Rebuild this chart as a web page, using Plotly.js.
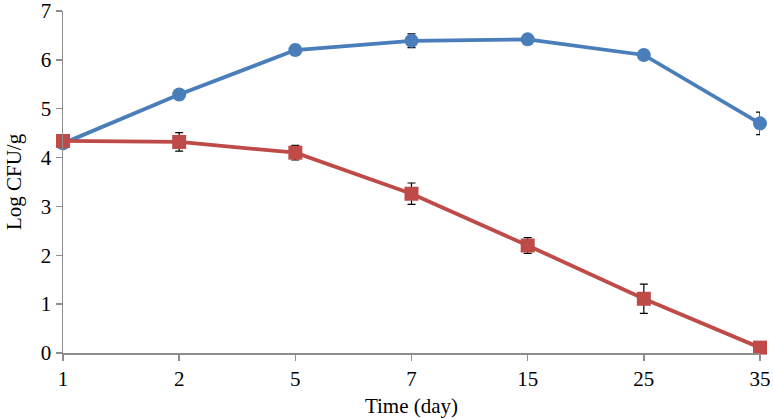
<!DOCTYPE html>
<html>
<head>
<meta charset="utf-8">
<script src="https://cdn.plot.ly/plotly-3.0.1.min.js"></script>
<style>html,body{margin:0;padding:0;background:#fff;}#chart{width:773px;height:419px;}</style>
</head>
<body>
<div id="chart"></div>
<script>
const days = ["1", "2", "5", "7", "15", "25", "35"];
const blueValues = [4.29, 5.29, 6.20, 6.39, 6.42, 6.10, 4.70];
const blueErrors = [0.0, 0.10, 0.10, 0.14, 0.08, 0.04, 0.23];
const redValues = [4.34, 4.32, 4.10, 3.26, 2.20, 1.11, 0.11];
const redErrors = [0.0, 0.19, 0.15, 0.22, 0.16, 0.30, 0.0];

const traces = [
  {
    x: days, y: blueValues, type: "scatter", mode: "lines+markers",
    line: {color: "#4a7ebb", width: 3.8},
    marker: {symbol: "circle", size: 14, color: "#4a7ebb"},
    error_y: {type: "data", array: blueErrors, visible: true, color: "#000", thickness: 1.2, width: 4},
    cliponaxis: false
  },
  {
    x: days, y: redValues, type: "scatter", mode: "lines+markers",
    line: {color: "#be4b48", width: 3.8},
    marker: {symbol: "square", size: 14, color: "#be4b48"},
    error_y: {type: "data", array: redErrors, visible: true, color: "#000", thickness: 1.2, width: 4},
    cliponaxis: false
  }
];

const layout = {
  width: 773, height: 419,
  margin: {l: 63, r: 13, t: 11, b: 66},
  showlegend: false,
  paper_bgcolor: "#fff", plot_bgcolor: "#fff",
  font: {family: "Liberation Serif, Times New Roman, serif", size: 21, color: "#000"},
  xaxis: {
    type: "category", range: [0, 6],
    showgrid: false, zeroline: false,
    showline: true, linecolor: "#8c8c8c", linewidth: 1.5,
    ticks: "outside", ticklen: 6, tickcolor: "#8c8c8c", tickwidth: 1.5,
    tickfont: {size: 21}, ticklabeloverflow: "allow",
    title: {text: "Time (day)", font: {size: 21}, standoff: 8}
  },
  yaxis: {
    range: [0, 7], dtick: 1,
    showgrid: false, zeroline: false,
    showline: true, linecolor: "#8c8c8c", linewidth: 1.5,
    ticks: "outside", ticklen: 6, tickcolor: "#8c8c8c", tickwidth: 1.5,
    tickfont: {size: 21}, ticklabeloverflow: "allow",
    title: {text: "Log CFU/g", font: {size: 21}, standoff: 13}
  }
};

Plotly.newPlot("chart", traces, layout, {displayModeBar: false, staticPlot: true});
</script>
</body>
</html>
